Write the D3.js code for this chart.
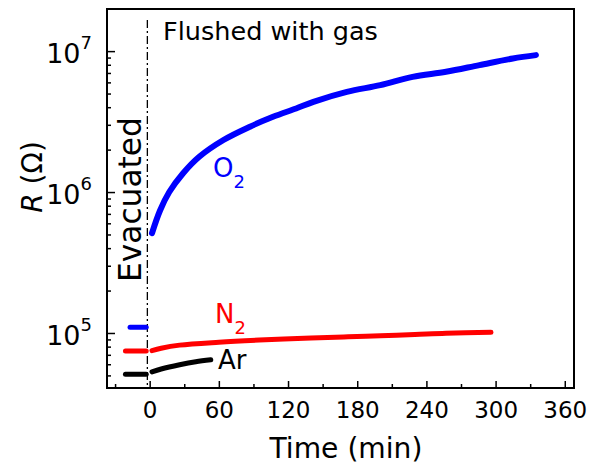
<!DOCTYPE html>
<html>
<head>
<meta charset="utf-8">
<script src="https://cdn.jsdelivr.net/npm/d3@7"></script>
<style>
  body { margin: 0; background: #fff; }
  svg { display: block; font-family: "DejaVu Sans", sans-serif; }
</style>
</head>
<body>
<svg id="chart" width="606" height="472"></svg>
<script>
// values (time in min, resistance in ohm)
const o2Time = [2, 9, 17, 29, 43, 64, 87, 107, 127, 142, 171, 200, 228, 257, 286, 315, 335]
const o2R = [5.1e5, 7.4e5, 1.0e6, 1.36e6, 1.78e6, 2.34e6, 2.91e6, 3.42e6, 3.92e6, 4.37e6, 5.14e6, 5.74e6, 6.57e6, 7.13e6, 7.96e6, 8.87e6, 9.37e6]
const n2Time = [2, 10, 26, 60, 95, 140, 172, 200, 230, 257, 296]
const n2R = [7.5e4, 7.8e4, 8.2e4, 8.6e4, 8.9e4, 9.2e4, 9.4e4, 9.55e4, 9.75e4, 9.95e4, 1.01e5]
const arTime = [2, 10, 26, 40, 53]
const arR = [5.3e4, 5.55e4, 5.95e4, 6.25e4, 6.45e4]

// evacuated levels (before t = 0)
const evacTime = [-21, -3]
const o2Evac = 1.1e5
const n2Evac = 7.45e4
const arEvac = 5.1e4
const o2EvacTime = [-17, -3]

const xTicks = [0, 60, 120, 180, 240, 300, 360]
const xMinor = [-30, 30, 90, 150, 210, 270, 330]
const yTicks = [1e5, 1e6, 1e7]
const yExp = ['5', '6', '7']
const switchTime = -2

const W = 606, H = 472
const margin = {top: 9, right: 32, bottom: 84, left: 107}

const svg = d3.select('#chart')

const x = d3.scaleLinear().domain([-37, 368]).range([margin.left, W - margin.right])
const y = d3.scaleLog().domain([4.07e4, 1.99e7]).range([H - margin.bottom, margin.top])

// minor ticks on the log axis
const yMinor = []
;[4, 5, 6, 7].forEach(function(e) {
  for (let k = 2; k <= 9; k++) {
    const v = k * Math.pow(10, e)
    if (v > y.domain()[0] && v < y.domain()[1]) yMinor.push(v)
  }
})

// axes, ticks point inward
const gx = svg.append('g').attr('transform', 'translate(0,' + (H - margin.bottom) + ')')
gx.call(d3.axisBottom(x).tickValues(xTicks).tickSize(-7).tickPadding(14).tickFormat(d3.format('d')))
gx.append('g').call(d3.axisBottom(x).tickValues(xMinor).tickSize(-4).tickFormat(''))
gx.selectAll('.domain').remove()
gx.selectAll('.tick line').attr('stroke', '#000').attr('stroke-width', 1.5)
gx.selectAll('.tick text').attr('font-size', 23).attr('fill', '#000')
  .attr('font-family', '"DejaVu Sans", sans-serif')

const gy = svg.append('g').attr('transform', 'translate(' + margin.left + ',0)')
gy.call(d3.axisLeft(y).tickValues(yTicks).tickSize(-8).tickFormat(''))
gy.append('g').call(d3.axisLeft(y).tickValues(yMinor).tickSize(-4).tickFormat(''))
gy.selectAll('.domain').remove()
gy.selectAll('.tick line').attr('stroke', '#000').attr('stroke-width', 1.5)

// y tick labels as powers of ten
yTicks.forEach(function(v, i) {
  const t = svg.append('text')
    .attr('x', 92).attr('y', y(v) + 12)
    .attr('text-anchor', 'end')
    .attr('font-size', 27)
  t.append('tspan').text('10')
  t.append('tspan').attr('dy', -14).attr('font-size', 18).text(yExp[i])
})

// frame
svg.append('rect')
  .attr('x', margin.left).attr('y', margin.top)
  .attr('width', W - margin.left - margin.right)
  .attr('height', H - margin.top - margin.bottom)
  .attr('fill', 'none').attr('stroke', '#000').attr('stroke-width', 2)

// evacuated / flushed divider
svg.append('line')
  .attr('x1', x(switchTime)).attr('x2', x(switchTime))
  .attr('y1', 20).attr('y2', H - margin.bottom)
  .attr('stroke', '#000').attr('stroke-width', 1.3)
  .attr('stroke-dasharray', '8,3,2,3')

const line = d3.line().curve(d3.curveCatmullRom)
  .x(function(d) { return x(d[0]) })
  .y(function(d) { return y(d[1]) })

function drawSeries(times, values, color, width) {
  svg.append('path')
    .datum(d3.zip(times, values))
    .attr('d', line)
    .attr('fill', 'none')
    .attr('stroke', color)
    .attr('stroke-width', width)
    .attr('stroke-linecap', 'round')
    .attr('stroke-linejoin', 'round')
}

drawSeries(o2Time, o2R, '#0000ff', 6)
drawSeries(n2Time, n2R, '#ff0000', 5)
drawSeries(arTime, arR, '#000000', 5)
drawSeries(o2EvacTime, [o2Evac, o2Evac], '#0000ff', 5)
drawSeries(evacTime, [n2Evac, n2Evac], '#ff0000', 5)
drawSeries(evacTime, [arEvac, arEvac], '#000000', 5)

// scale a text so its width matches the picture
function fitWidth(sel, w) {
  const len = sel.node().getComputedTextLength()
  sel.attr('font-size', parseFloat(sel.attr('font-size')) * w / len)
}

// series labels
function gasLabel(px, py, main, sub, color) {
  const t = svg.append('text').attr('x', px).attr('y', py)
    .attr('fill', color).attr('font-size', 26)
  t.append('tspan').text(main)
  if (sub) t.append('tspan').attr('dy', 11).attr('font-size', 18).text(sub)
}
gasLabel(213, 177, 'O', '2', '#0000ff')
gasLabel(215, 323, 'N', '2', '#ff0000')
gasLabel(218, 369, 'Ar', null, '#000')

// annotations
const flushed = svg.append('text').attr('x', 163).attr('y', 40)
  .attr('font-size', 20).text('Flushed with gas')
fitWidth(flushed, 215)

const evac = svg.append('text')
  .attr('transform', 'translate(141,282) rotate(-90)')
  .attr('font-size', 22).text('Evacuated')
fitWidth(evac, 165)

// axis titles
const xt = svg.append('text').attr('x', 346).attr('y', 458)
  .attr('text-anchor', 'middle').attr('font-size', 24).text('Time (min)')
fitWidth(xt, 153)

const yt = svg.append('text')
  .attr('transform', 'translate(42,177) rotate(-90)')
  .attr('text-anchor', 'middle').attr('font-size', 28)
yt.append('tspan').attr('font-style', 'italic').text('R')
yt.append('tspan').text(' (Ω)')
</script>
</body>
</html>
